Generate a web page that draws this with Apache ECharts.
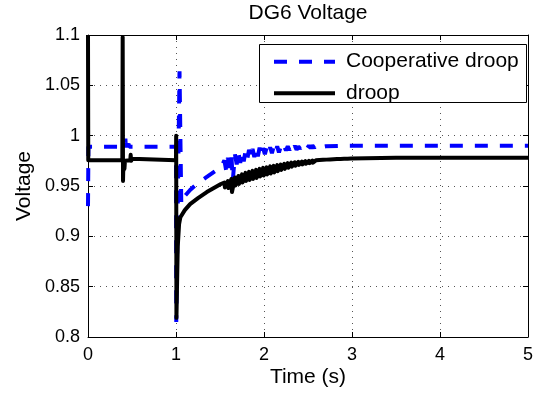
<!DOCTYPE html>
<html>
<head>
<meta charset="utf-8">
<script src="https://cdn.jsdelivr.net/npm/echarts@6/dist/echarts.min.js"></script>
<style>html,body{margin:0;padding:0;background:#fff}#c{width:542px;height:394px}</style>
</head>
<body>
<div id="c"></div>
<script>
var chartTitle = 'DG6 Voltage';
var seriesNames = ['Cooperative droop', 'droop'];
var xTicks = [0, 1, 2, 3, 4, 5];
var yTicks = [0.8, 0.85, 0.9, 0.95, 1, 1.05, 1.1];

// Cooperative droop (blue dashed): [time (s), voltage]
var coopData = [
  [0, 0.93], [0.005, 0.989], [0.42, 0.989], [0.425, 0.997], [0.43, 0.988], [0.435, 0.996],
  [0.44, 0.989], [0.46, 0.992], [0.47, 0.989], [1.0, 0.989],
  [1.003, 0.815], [1.04, 1.064], [1.06, 0.932], [1.1, 0.940], [1.16, 0.946], [1.25, 0.953],
  [1.35, 0.959], [1.45, 0.965], [1.51, 0.968],
  [1.55, 0.9755], [1.57, 0.9655], [1.59, 0.978], [1.61, 0.968], [1.63, 0.980], [1.645, 0.955],
  [1.67, 0.9815], [1.69, 0.9715], [1.71, 0.983], [1.73, 0.973], [1.75, 0.9845], [1.77, 0.9745],
  [1.79, 0.985], [1.81, 0.977], [1.83, 0.986], [1.85, 0.978], [1.87, 0.9868], [1.89, 0.9788],
  [1.91, 0.9875], [1.93, 0.9795], [1.95, 0.988], [1.97, 0.980], [1.99, 0.9876], [2.01, 0.9816],
  [2.03, 0.988], [2.05, 0.982], [2.07, 0.9885], [2.09, 0.9825], [2.11, 0.989], [2.13, 0.983],
  [2.15, 0.9894], [2.17, 0.9834], [2.19, 0.9888], [2.21, 0.9848], [2.23, 0.9892], [2.25, 0.9852],
  [2.27, 0.9895], [2.29, 0.9855], [2.31, 0.9898], [2.33, 0.9858], [2.35, 0.990], [2.37, 0.986],
  [2.39, 0.9894], [2.41, 0.987], [2.43, 0.9896], [2.45, 0.9872], [2.47, 0.9898], [2.49, 0.9874],
  [2.51, 0.990], [2.53, 0.9876], [2.55, 0.9902], [2.57, 0.9878], [2.59, 0.9903], [2.61, 0.9879],
  [2.7, 0.9894], [2.86, 0.9898], [3.2, 0.990], [4.0, 0.990], [5.0, 0.990]
];

// droop (black solid): [time (s), voltage]
var droopData = [
  [0, 1.1], [0.003, 0.9755], [0.39, 0.9755], [0.394, 1.098], [0.398, 0.955], [0.402, 0.972],
  [0.406, 0.966], [0.41, 0.974], [0.414, 0.967], [0.42, 0.975], [0.48, 0.9755], [0.485, 0.981],
  [0.49, 0.975], [0.5, 0.977], [0.51, 0.9755], [1.0, 0.9755],
  [1.002, 1.0], [1.005, 0.819], [1.02, 0.89], [1.035, 0.912], [1.05, 0.919], [1.1, 0.926],
  [1.16, 0.932], [1.25, 0.938], [1.35, 0.944], [1.45, 0.949], [1.51, 0.952],
  [1.55, 0.9535], [1.556, 0.9485], [1.59, 0.955], [1.596, 0.948], [1.63, 0.957], [1.636, 0.944],
  [1.67, 0.9585], [1.676, 0.9505], [1.71, 0.960], [1.716, 0.952], [1.75, 0.9615], [1.756, 0.9535],
  [1.79, 0.963], [1.796, 0.955], [1.83, 0.964], [1.836, 0.956], [1.87, 0.965], [1.876, 0.957],
  [1.91, 0.966], [1.916, 0.958], [1.95, 0.967], [1.956, 0.9595], [1.99, 0.968], [1.996, 0.9605],
  [2.03, 0.9685], [2.036, 0.9615], [2.07, 0.9695], [2.076, 0.9625], [2.11, 0.970], [2.116, 0.9635],
  [2.15, 0.9707], [2.156, 0.9647], [2.19, 0.9714], [2.196, 0.9659], [2.23, 0.972], [2.236, 0.967],
  [2.27, 0.9727], [2.276, 0.9682], [2.31, 0.9732], [2.316, 0.9692], [2.35, 0.9736], [2.356, 0.9701],
  [2.39, 0.974], [2.396, 0.971], [2.43, 0.9743], [2.436, 0.9715], [2.47, 0.9746], [2.476, 0.9721],
  [2.51, 0.9749], [2.516, 0.9727], [2.55, 0.9752], [2.556, 0.9732], [2.59, 0.9755], [2.596, 0.9737],
  [2.63, 0.9758], [2.636, 0.9743], [2.67, 0.976], [2.676, 0.9747], [2.71, 0.9762], [2.716, 0.9751],
  [2.75, 0.9764], [2.756, 0.9754], [2.79, 0.9766], [2.796, 0.9758], [2.83, 0.9767], [2.836, 0.976],
  [2.87, 0.9768], [2.876, 0.9763], [2.91, 0.977], [2.916, 0.9766], [2.95, 0.9771], [2.956, 0.9768],
  [2.99, 0.9772], [3.5, 0.978], [4.0, 0.978], [5.0, 0.978]
];

var FONT = 'Liberation Sans, Arial, Helvetica, sans-serif';
var chart = echarts.init(document.getElementById('c'), null, {renderer: 'canvas'});

var gridSplit = {show: true, lineStyle: {color: '#555', width: 1, type: [1, 5]}};
var frameLine = {show: true, onZero: false, lineStyle: {color: '#000', width: 1}};
var innerTick = {show: true, inside: true, length: 5, lineStyle: {color: '#000', width: 1}};

function fmt(v) { return String(parseFloat(v.toFixed(2))); }

chart.setOption({
  animation: false,
  backgroundColor: '#fff',
  textStyle: {fontFamily: FONT},
  title: {
    text: chartTitle, left: 308, top: 3, padding: 0, textAlign: 'center',
    textStyle: {fontFamily: FONT, fontSize: 21, fontWeight: 'normal', color: '#000'}
  },
  grid: {left: 88, right: 14, top: 35, bottom: 57, containLabel: false},
  legend: {
    data: seriesNames, orient: 'vertical', left: 272, top: 49.7, padding: 0, itemGap: 7.6,
    itemWidth: 61, itemHeight: 14,
    itemStyle: {opacity: 0, borderWidth: 0},
    lineStyle: {width: 4, opacity: 1},
    textStyle: {fontFamily: FONT, fontSize: 21, color: '#000', lineHeight: 24, padding: [0, 0, 0, 6]},
    z: 5
  },
  graphic: [{
    type: 'rect', z: 4, silent: true,
    shape: {x: 259.5, y: 44.5, width: 267, height: 58},
    style: {fill: '#fff', stroke: '#000', lineWidth: 1}
  }],
  xAxis: [{
    type: 'value', min: xTicks[0], max: xTicks[xTicks.length - 1], interval: 1,
    position: 'bottom',
    name: 'Time (s)', nameLocation: 'middle', nameGap: 30, nameMoveOverlap: false,
    nameTextStyle: {fontFamily: FONT, fontSize: 21, color: '#000'},
    axisLine: frameLine, axisTick: innerTick,
    axisLabel: {fontFamily: FONT, fontSize: 18, color: '#000', margin: 9, formatter: fmt},
    splitLine: gridSplit
  }, {
    type: 'value', min: xTicks[0], max: xTicks[xTicks.length - 1], interval: 1,
    position: 'top',
    axisLine: frameLine, axisTick: innerTick, axisLabel: {show: false}, splitLine: {show: false}
  }],
  yAxis: [{
    type: 'value', min: yTicks[0], max: yTicks[yTicks.length - 1], interval: 0.05,
    position: 'left',
    name: 'Voltage', nameLocation: 'middle', nameGap: 53, nameMoveOverlap: false,
    nameTextStyle: {fontFamily: FONT, fontSize: 21, color: '#000'},
    axisLine: frameLine, axisTick: innerTick,
    axisLabel: {fontFamily: FONT, fontSize: 18, color: '#000', margin: 8, formatter: fmt},
    splitLine: gridSplit
  }, {
    type: 'value', min: yTicks[0], max: yTicks[yTicks.length - 1], interval: 0.05,
    position: 'right',
    axisLine: frameLine, axisTick: innerTick, axisLabel: {show: false}, splitLine: {show: false}
  }],
  series: [{
    name: seriesNames[0], type: 'line', data: coopData, xAxisIndex: 0, yAxisIndex: 0,
    symbol: 'none', smooth: false, clip: true, z: 2,
    itemStyle: {color: '#0000ff'},
    lineStyle: {color: '#0000ff', width: 4, type: [13, 12], cap: 'butt', join: 'bevel'}
  }, {
    name: seriesNames[1], type: 'line', data: droopData, xAxisIndex: 0, yAxisIndex: 0,
    symbol: 'none', smooth: false, clip: true, z: 3,
    itemStyle: {color: '#000'},
    lineStyle: {color: '#000', width: 4, type: 'solid', cap: 'butt', join: 'round'}
  }]
});
</script>
</body>
</html>
